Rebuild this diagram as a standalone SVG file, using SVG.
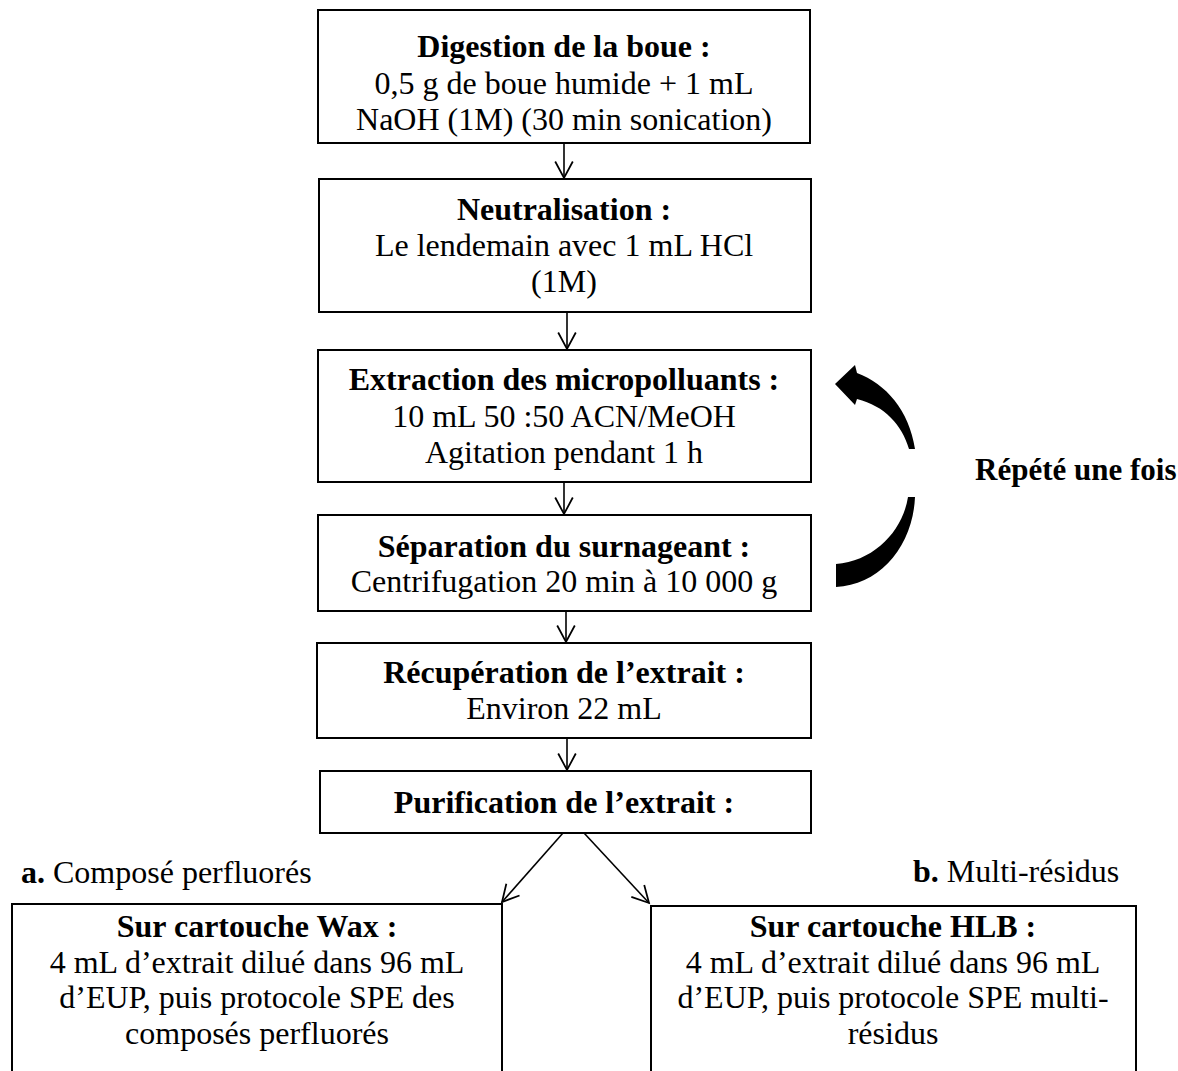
<svg xmlns="http://www.w3.org/2000/svg" width="1178" height="1071" viewBox="0 0 1178 1071">
<defs>
<style>
.box{fill:#fff;stroke:#000;stroke-width:2}
text{font-family:"Liberation Serif","Times New Roman",serif;font-size:32px;fill:#000}
.c{text-anchor:middle}
.b{font-weight:bold}
.con{stroke:#000;stroke-width:1.6;fill:none}
</style>
<marker id="ah" markerUnits="userSpaceOnUse" markerWidth="22" markerHeight="22" viewBox="0 0 20 20" refX="18" refY="10" orient="auto">
<path d="M3,2 L18,10 L3,18" fill="none" stroke="#000" stroke-width="1.6"/>
</marker>
</defs>
<rect width="1178" height="1071" fill="#fff"/>

<g id="connectors">
<line class="con" x1="564" y1="143" x2="564" y2="178" marker-end="url(#ah)"/>
<line class="con" x1="567" y1="312" x2="567" y2="349" marker-end="url(#ah)"/>
<line class="con" x1="564" y1="482" x2="564" y2="514" marker-end="url(#ah)"/>
<line class="con" x1="566" y1="611" x2="566" y2="642" marker-end="url(#ah)"/>
<line class="con" x1="567" y1="738" x2="567" y2="770" marker-end="url(#ah)"/>
<line class="con" x1="563" y1="833" x2="502" y2="902" marker-end="url(#ah)"/>
<line class="con" x1="584" y1="833" x2="649" y2="903" marker-end="url(#ah)"/>
<path id="loop-upper" d="M835 384 L855 365 L857 373 C886 384 909 410 915 449 L909 449 C902 425 885 406 857 399 L855 405 Z" fill="#000"/>
<path id="loop-lower" d="M836 564 C875 561 903 530 908 497 L915 497 C913 546 880 585 836 587 Z" fill="#000"/>
</g>

<g id="n1">
<rect class="box" x="318" y="10" width="492" height="133"/>
<text class="c b" x="564" y="57">Digestion de la boue :</text>
<text class="c" x="564" y="94">0,5 g de boue humide + 1 mL</text>
<text class="c" x="564" y="130">NaOH (1M) (30 min sonication)</text>
</g>

<g id="n2">
<rect class="box" x="319" y="179" width="492" height="133"/>
<text class="c b" x="564" y="220">Neutralisation :</text>
<text class="c" x="564" y="256">Le lendemain avec 1 mL HCl</text>
<text class="c" x="564" y="292">(1M)</text>
</g>

<g id="n3">
<rect class="box" x="318" y="350" width="493" height="132"/>
<text class="c b" x="564" y="390">Extraction des micropolluants :</text>
<text class="c" x="564" y="427">10 mL 50 :50 ACN/MeOH</text>
<text class="c" x="564" y="463">Agitation pendant 1 h</text>
</g>

<g id="n4">
<rect class="box" x="318" y="515" width="493" height="96"/>
<text class="c b" x="564" y="557">Séparation du surnageant :</text>
<text class="c" x="564" y="592">Centrifugation 20 min à 10 000 g</text>
</g>

<g id="n5">
<rect class="box" x="317" y="643" width="494" height="95"/>
<text class="c b" x="564" y="683">Récupération de l’extrait :</text>
<text class="c" x="564" y="719">Environ 22 mL</text>
</g>

<g id="n6">
<rect class="box" x="320" y="771" width="491" height="62"/>
<text class="c b" x="564" y="813">Purification de l’extrait :</text>
</g>

<g id="label-repete">
<text class="b" x="975" y="480" style="font-size:31px">Répété une fois</text>
</g>

<g id="label-a">
<text x="21" y="883"><tspan class="b">a.</tspan> Composé perfluorés</text>
</g>

<g id="label-b">
<text x="913" y="882"><tspan class="b">b.</tspan> Multi-résidus</text>
</g>

<g id="n7">
<rect class="box" x="12" y="904" width="490" height="200"/>
<text class="c b" x="257" y="937">Sur cartouche Wax :</text>
<text class="c" x="257" y="973">4 mL d’extrait dilué dans 96 mL</text>
<text class="c" x="257" y="1008">d’EUP, puis protocole SPE des</text>
<text class="c" x="257" y="1044">composés perfluorés</text>
</g>

<g id="n8">
<rect class="box" x="651" y="906" width="485" height="200"/>
<text class="c b" x="893" y="937">Sur cartouche HLB :</text>
<text class="c" x="893" y="973">4 mL d’extrait dilué dans 96 mL</text>
<text class="c" x="893" y="1008">d’EUP, puis protocole SPE multi-</text>
<text class="c" x="893" y="1044">résidus</text>
</g>
</svg>
